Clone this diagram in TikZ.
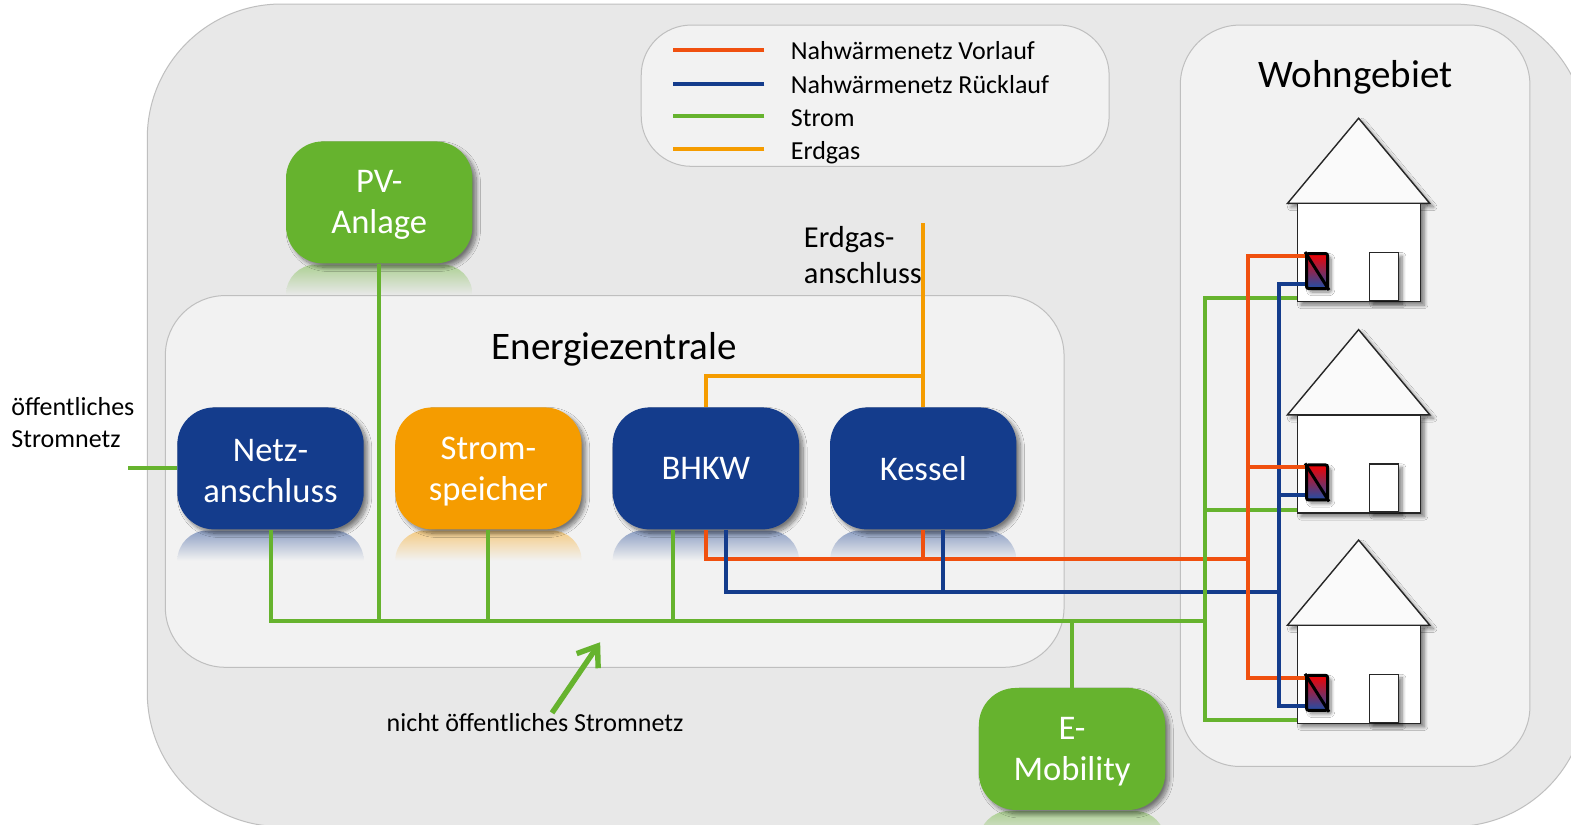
\documentclass[tikz,border=0pt]{standalone}
\usepackage{fontspec}
\setmainfont{Carlito}
\usepackage{tikz}
\usetikzlibrary{arrows.meta,shadows.blur}

\definecolor{gruen}{HTML}{66B32E}
\definecolor{blau}{HTML}{143C8C}
\definecolor{rot}{HTML}{F0500F}
\definecolor{gelb}{HTML}{F59C00}
\definecolor{aussen}{HTML}{E8E8E8}
\definecolor{innen}{HTML}{F2F2F2}
\definecolor{heizblau}{HTML}{1F4FA8}
\newcommand{\zeile}{\rule{0pt}{14pt}}

\tikzset{
  panel/.style={draw=black!25,fill=innen,line width=0.5pt},
  block/.style={rectangle,rounded corners=18.5pt,minimum width=93.2pt,minimum height=61pt,
    inner sep=0pt,align=center,text=white,font=\fontsize{17.3}{20.5}\selectfont,
    blur shadow={shadow xshift=2pt,shadow yshift=-2pt,shadow blur radius=2pt,shadow blur steps=12,shadow opacity=50}},
  schatten/.style={blur shadow={shadow xshift=1.8pt,shadow yshift=-1.8pt,shadow blur radius=1.8pt,shadow blur steps=10,shadow opacity=50}},
  stromltg/.style={draw=gruen,line width=2pt},
  vorlauf/.style={draw=rot,line width=2pt},
  ruecklauf/.style={draw=blau,line width=2pt},
  gasltg/.style={draw=gelb,line width=2pt},
  legtext/.style={anchor=west,inner sep=0pt,font=\fontsize{13}{15}\selectfont},
}

\begin{document}
\begin{tikzpicture}[x=0.501pt,y=-0.501pt]
  \useasboundingbox (0,0) rectangle (1568,823);
  \clip (0,0) rectangle (1568,823);
  \fill[white] (0,0) rectangle (1568,823);

  % panels
  \draw[panel,fill=aussen,rounded corners=67pt] (147,4) rectangle (1584,825);
  \draw[panel,rounded corners=30pt] (165,295) rectangle (1062,666);
  \draw[panel,rounded corners=30pt] (1178,25) rectangle (1527,765);
  \draw[panel,rounded corners=25pt] (640,25) rectangle (1107,166);

  % legend
  \foreach \nm/\y/\ly/\sty/\txt in {vl/50/50/vorlauf/Nahwärmenetz Vorlauf,
      rl/84/84/ruecklauf/Nahwärmenetz Rücklauf,
      st/118/116/stromltg/Strom,
      gas/152/149/gasltg/Erdgas}{
    \node[legtext] (leg\nm) at (789,\y) {\txt};
    \draw[\sty] (763,\ly) -- (672,\ly);
  }

  % blocks with their reflection
  \foreach \nm/\cx/\cy/\col/\bg/\txt in {netz/270/467.5/blau/innen/{\zeile Netz-\\anschluss},
      speicher/487.5/467.5/gelb/innen/{\zeile Strom-\\speicher},
      bhkw/704.5/467.5/blau/innen/BHKW,
      kessel/921.5/467.5/blau/innen/Kessel,
      pv/378.5/202/gruen/aussen/{\zeile PV-\\Anlage},
      emob/1070/747.5/gruen/aussen/{\zeile E-\\Mobility}}{
    \shade[top color=\col!45!\bg,bottom color=\bg]
      ({\cx-93},{\cy+92}) [rounded corners=15pt] -- ({\cx-93},{\cy+62})
      -- ({\cx+93},{\cy+62}) [sharp corners] -- ({\cx+93},{\cy+92}) -- cycle;
    \node[block,fill=\col] (\nm) at (\cx,\cy) {\txt};
  }

  % houses
  \foreach \i/\dy in {1/0,2/211,3/421}{
    \begin{scope}[shift={(0,\dy)}]
      \draw[black!85,fill=black!2,line width=0.7pt,schatten] (1285,203) -- (1356,118) -- (1427,203) -- cycle;
      \node[draw=black!85,fill=white,line width=0.7pt,minimum width=61.6pt,minimum height=49pt,
        inner sep=0pt,schatten] (haus\i) at (1356.5,252) {};
      \node[draw=black!85,fill=white,line width=0.7pt,minimum width=14.5pt,minimum height=24pt,
        inner sep=0pt,schatten] (tuer\i) at (1381.5,276) {};
      \node[draw=black,rounded corners=1pt,line width=1.5pt,top color=red!95!black,bottom color=heizblau,
        minimum width=10.5pt,minimum height=17.5pt,inner sep=0pt,schatten] (heiz\i) at (1314.5,270.5) {};
      \draw[black,line width=1.5pt] (heiz\i.north west) -- (heiz\i.south east);
    \end{scope}
  }

  % connector points
  \coordinate (vlknoten) at (1246,558);
  \coordinate (rlknoten) at (1277,591);
  \coordinate (stknoten) at (1203,620);
  \coordinate (gasende) at (921.5,223);
  \coordinate (gasabzw) at (921.5,375);
  \coordinate (oeffende) at (128,467.5);
  \coordinate (pfeilspitze) at (599,641);

  % electricity
  \draw[stromltg] (netz.south) |- (stknoten);
  \draw[stromltg] (pv.south) -- (pv.south |- stknoten);
  \draw[stromltg] (speicher.south) -- (speicher.south |- stknoten);
  \draw[stromltg] ([xshift=-16.3pt]bhkw.south) -- ([xshift=-16.3pt]bhkw.south |- stknoten);
  \draw[stromltg] (emob.north) -- (emob.north |- stknoten);
  \draw[stromltg] (oeffende) -- (netz.west);

  % gas
  \draw[gasltg] (gasende) -- (kessel.north);
  \draw[gasltg] (bhkw.north) |- (gasabzw);

  % heat network
  \draw[vorlauf] (bhkw.south) |- (vlknoten);
  \draw[vorlauf] (kessel.south) -- (kessel.south |- vlknoten);
  \draw[ruecklauf] ([xshift=10pt]bhkw.south) |- (rlknoten);
  \draw[ruecklauf] ([xshift=10pt]kessel.south) -- ([xshift=10pt]kessel.south |- rlknoten);
  \foreach \i in {1,2,3}{
    \draw[stromltg] ([yshift=1.9pt]haus\i.south west) -| (stknoten);
    \draw[vorlauf] ([yshift=7.5pt]heiz\i.west) -| (vlknoten);
    \draw[ruecklauf] ([yshift=-6.5pt]heiz\i.west) -| (rlknoten);
  }

  % labels
  \node[font=\fontsize{19.5}{22}\selectfont] (titelez) at (613,349) {Energiezentrale};
  \node[font=\fontsize{19.5}{22}\selectfont] (titelwg) at (1353,77) {Wohngebiet};
  \node[align=left,anchor=west,inner sep=0pt,font=\fontsize{13}{16}\selectfont] (oeffnetz) at (11,422) {öffentliches\\Stromnetz};
  \node[align=left,anchor=west,inner sep=0pt,font=\fontsize{15.2}{18}\selectfont] (gasanschl) at (802,255) {Erdgas-\\anschluss};
  \node[font=\fontsize{13}{15}\selectfont,inner sep=0pt] (nichtoeff) at (534,721) {nicht öffentliches Stromnetz};
  \draw[gruen,line width=2.7pt,-{Straight Barb[length=9pt,width=13pt]}] ([xshift=8.5pt]nichtoeff.north) -- (pfeilspitze);
\end{tikzpicture}
\end{document}
